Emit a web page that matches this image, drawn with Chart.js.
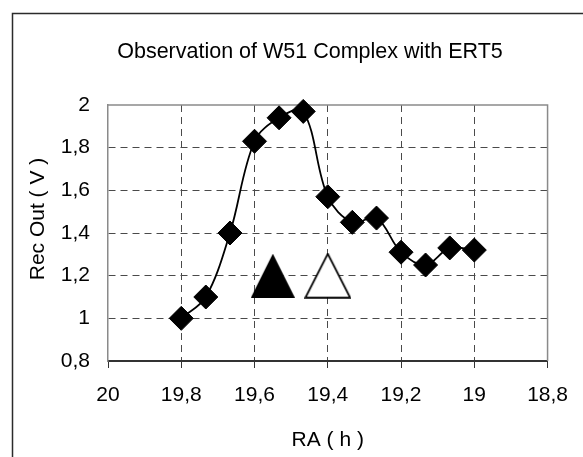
<!DOCTYPE html>
<html>
<head>
<meta charset="utf-8">
<title>Observation of W51 Complex with ERT5</title>
<script src="https://cdn.jsdelivr.net/npm/chart.js@4"></script>
<style>
  html, body { margin: 0; padding: 0; background: #fff; }
  #chart { display: block; }
</style>
</head>
<body>
<canvas id="chart" width="583" height="457"></canvas>
<script>
// Right ascension (hours) of each drift-scan sample and the receiver output (volts)
const raHours = [19.8, 19.733, 19.667, 19.6, 19.533, 19.467, 19.4, 19.333, 19.267, 19.2, 19.133, 19.067, 19.0];
const recOut  = [1.00, 1.10, 1.40, 1.83, 1.94, 1.97, 1.57, 1.45, 1.47, 1.31, 1.25, 1.33, 1.32];

// Reference markers (filled and open triangle)
const markerRa   = [19.55, 19.4];
const markerVolt = [1.2, 1.2];

// Axis ticks
const raTicks   = [20, 19.8, 19.6, 19.4, 19.2, 19, 18.8];
const voltTicks = [0.8, 1, 1.2, 1.4, 1.6, 1.8, 2];

const FONT_FAMILY = '"Liberation Sans", Arial, Helvetica, sans-serif';
const commaNum = v => String(Math.round(v * 10) / 10).replace('.', ',');

function triangleSprite(filled) {
  const w = filled ? 44 : 47, h = filled ? 44 : 46;
  const c = document.createElement('canvas');
  c.width = w; c.height = h;
  const g = c.getContext('2d');
  const inset = filled ? 0 : 1.2;
  g.beginPath();
  g.moveTo(w / 2, inset);
  g.lineTo(w - inset, h - inset);
  g.lineTo(inset, h - inset);
  g.closePath();
  if (filled) {
    g.fillStyle = '#000';
    g.fill();
  } else {
    g.fillStyle = '#fff';
    g.fill();
    g.lineWidth = 1.8;
    g.strokeStyle = '#000';
    g.stroke();
  }
  return c;
}

const decorations = {
  id: 'decorations',
  beforeDraw(chart) {
    const ctx = chart.ctx;
    ctx.save();
    ctx.fillStyle = '#fff';
    ctx.fillRect(0, 0, chart.width, chart.height);
    // outer frame
    ctx.strokeStyle = '#2b2b2b';
    ctx.lineWidth = 1.5;
    ctx.beginPath();
    ctx.moveTo(12.5, chart.height);
    ctx.lineTo(12.5, 13.5);
    ctx.lineTo(chart.width, 13.5);
    ctx.stroke();
    // chart title
    ctx.fillStyle = '#000';
    ctx.font = '21.5px ' + FONT_FAMILY;
    ctx.textAlign = 'center';
    ctx.textBaseline = 'middle';
    ctx.fillText('Observation of W51 Complex with ERT5', 310, 52);
    // y axis title
    ctx.font = '21px ' + FONT_FAMILY;
    ctx.translate(38, 219);
    ctx.rotate(-Math.PI / 2);
    ctx.fillText('Rec Out ( V )', 0, 0);
    ctx.restore();
  },
  beforeDatasetsDraw(chart) {
    const {ctx, chartArea: a} = chart;
    ctx.save();
    ctx.strokeStyle = '#8a8a8a';
    ctx.lineWidth = 1.5;
    ctx.beginPath();
    ctx.moveTo(a.left, a.top);
    ctx.lineTo(a.right, a.top);
    ctx.lineTo(a.right, a.bottom);
    ctx.stroke();
    ctx.restore();
  }
};

const isEdge = (ctx, lo, hi) => ctx.tick && (Math.abs(ctx.tick.value - lo) < 1e-6 || Math.abs(ctx.tick.value - hi) < 1e-6);

new Chart(document.getElementById('chart'), {
  type: 'line',
  data: {
    datasets: [
      {
        label: 'Rec Out',
        data: raHours.map((x, i) => ({x, y: recOut[i]})),
        borderColor: '#000',
        borderWidth: 1.8,
        tension: 0.35,
        fill: false,
        pointStyle: 'rectRot',
        pointRadius: 12,
        pointBorderWidth: 1,
        pointBackgroundColor: '#000',
        pointBorderColor: '#000',
        clip: false
      },
      {
        label: 'Markers',
        data: markerRa.map((x, i) => ({x, y: markerVolt[i]})),
        showLine: false,
        pointStyle: [triangleSprite(true), triangleSprite(false)],
        pointRadius: 20,
        clip: false
      }
    ]
  },
  options: {
    responsive: false,
    animation: false,
    devicePixelRatio: 1,
    layout: { padding: { top: 105, right: 33, bottom: 0, left: 0 } },
    plugins: {
      legend: { display: false },
      title: { display: false },
      tooltip: { enabled: false }
    },
    scales: {
      x: {
        type: 'linear',
        reverse: true,
        min: 18.8,
        max: 20,
        afterBuildTicks: s => { s.ticks = raTicks.map(v => ({value: v})); },
        afterFit: s => { s.height = 96; },
        grid: {
          color: ctx => isEdge(ctx, 18.8, 20) ? 'rgba(0,0,0,0)' : '#4a4a4a',
          lineWidth: 1,
          tickColor: '#333',
          tickLength: 7,
          tickWidth: 1
        },
        border: { display: true, color: '#333', width: 2, dash: [7, 5] },
        ticks: {
          color: '#000',
          font: { family: FONT_FAMILY, size: 21 },
          padding: 15,
          autoSkip: false,
          maxRotation: 0,
          callback: v => commaNum(v)
        },
        title: {
          display: true,
          text: 'RA ( h )',
          color: '#000',
          font: { family: FONT_FAMILY, size: 21 },
          padding: { top: 0, bottom: 4 }
        }
      },
      y: {
        type: 'linear',
        min: 0.8,
        max: 2,
        afterBuildTicks: s => { s.ticks = voltTicks.map(v => ({value: v})); },
        afterFit: s => { s.width = 108; },
        grid: {
          color: ctx => isEdge(ctx, 0.8, 2) ? 'rgba(0,0,0,0)' : '#4a4a4a',
          lineWidth: 1,
          drawTicks: false
        },
        border: { display: true, color: '#8a8a8a', width: 1.5, dash: [7, 5] },
        ticks: {
          color: '#000',
          font: { family: FONT_FAMILY, size: 21 },
          padding: 18,
          callback: v => commaNum(v)
        }
      }
    }
  },
  plugins: [decorations]
});
</script>
</body>
</html>
